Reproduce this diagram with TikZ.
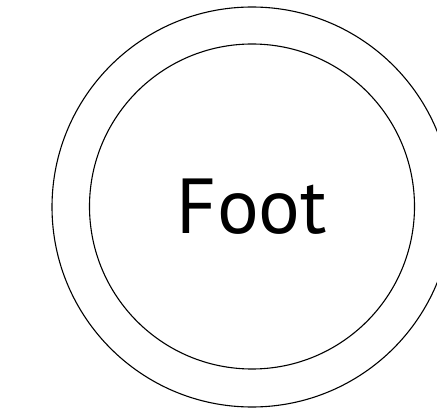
\documentclass[tikz,border=0pt]{standalone}
\usepackage{fontspec}
\setmainfont{PT Sans}
\tikzset{
  ring/.style={circle, draw=black, line width=1.1pt, inner sep=0pt},
  foot label/.style={font=\fontsize{78}{80}\selectfont, text=black},
}
\begin{document}
\begin{tikzpicture}[x=1pt,y=-1pt]
\useasboundingbox (0,0) rectangle (437,409);
\node[ring, minimum size=400pt] (outer) at (252,207) {};
\node[ring, minimum size=325pt] (inner) at (252,206.5) {};
\node[foot label] (foot) at (inner.center) {Foot};
\end{tikzpicture}
\end{document}
